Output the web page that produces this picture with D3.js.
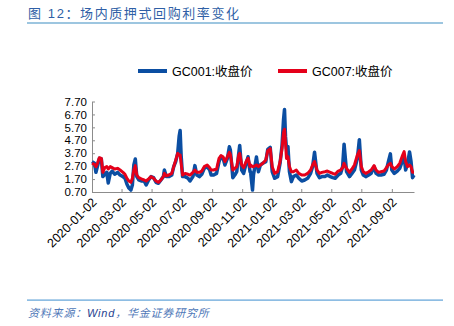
<!DOCTYPE html>
<html>
<head>
<meta charset="utf-8"/>
<script src="https://cdn.jsdelivr.net/npm/d3@7/dist/d3.min.js"></script>
<style>
  body { margin: 0; background: #fff; }
  text { font-family: "Liberation Sans", Arial, "Noto Sans CJK SC", sans-serif; }
</style>
</head>
<body>
<script>
// dates (roughly every few trading days)
var dates = [
 "2020-01-02","2020-01-07","2020-01-10","2020-01-13","2020-01-17","2020-01-21","2020-01-24","2020-01-28",
 "2020-02-01","2020-02-04","2020-02-08","2020-02-12","2020-02-17","2020-02-23","2020-02-28","2020-03-05",
 "2020-03-09","2020-03-13","2020-03-17","2020-03-21","2020-03-24","2020-03-27","2020-03-30","2020-04-02",
 "2020-04-06","2020-04-11","2020-04-17","2020-04-21","2020-04-26","2020-05-01","2020-05-06","2020-05-11",
 "2020-05-16","2020-05-21","2020-05-26","2020-05-28","2020-06-01","2020-06-06","2020-06-12","2020-06-16",
 "2020-06-20","2020-06-24","2020-06-27","2020-06-29","2020-07-01","2020-07-04","2020-07-09","2020-07-15",
 "2020-07-19","2020-07-25","2020-07-29","2020-08-02","2020-08-07","2020-08-12","2020-08-17","2020-08-23",
 "2020-08-28","2020-08-31","2020-09-05","2020-09-11","2020-09-16","2020-09-20","2020-09-24","2020-09-28",
 "2020-10-03","2020-10-07","2020-10-09","2020-10-14","2020-10-18","2020-10-22","2020-10-26","2020-10-28",
 "2020-11-01","2020-11-05","2020-11-10","2020-11-14","2020-11-18","2020-11-19","2020-11-23","2020-11-25",
 "2020-12-01","2020-12-05","2020-12-09","2020-12-14","2020-12-20","2020-12-24","2020-12-29","2021-01-02",
 "2021-01-07","2021-01-13","2021-01-18","2021-01-22","2021-01-25","2021-01-27","2021-01-29","2021-01-31",
 "2021-02-03","2021-02-06","2021-02-10","2021-02-14","2021-02-20","2021-02-25","2021-03-03","2021-03-09",
 "2021-03-15","2021-03-21","2021-03-25","2021-03-29","2021-04-03","2021-04-08","2021-04-13","2021-04-19",
 "2021-04-24","2021-04-30","2021-05-05","2021-05-10","2021-05-16","2021-05-21","2021-05-25","2021-05-28",
 "2021-06-02","2021-06-08","2021-06-13","2021-06-18","2021-06-24","2021-06-28","2021-07-02","2021-07-06",
 "2021-07-11","2021-07-17","2021-07-22","2021-07-28","2021-08-01","2021-08-06","2021-08-11","2021-08-17",
 "2021-08-22","2021-08-26","2021-08-30","2021-09-02","2021-09-07","2021-09-13","2021-09-18","2021-09-24",
 "2021-09-27","2021-09-30","2021-10-04","2021-10-08","2021-10-11","2021-10-14","2021-10-17"
];
var gc001 = [
 3.05,2.92,2.22,2.66,3.30,3.25,1.89,2.07, 2.22,1.40,2.14,2.32,2.07,2.22,2.01,1.89,
 1.76,1.30,1.00,0.85,1.24,2.79,3.25,1.89, 1.63,1.55,1.55,1.24,1.63,1.89,1.81,1.45,
 1.37,1.63,1.89,2.40,1.89,1.89,2.01,2.66, 3.05,3.69,5.00,5.45,3.56,1.89,1.89,1.76,
 1.55,1.89,2.74,2.01,1.89,2.07,2.53,2.66, 2.40,2.01,2.01,2.14,3.05,3.43,3.35,2.79,
 3.30,4.20,3.95,1.81,2.01,2.27,3.69,4.30, 2.40,2.14,2.92,3.43,2.27,2.27,0.85,2.01,
 3.40,2.27,2.79,2.92,3.05,4.00,4.15,2.27, 1.76,1.89,2.92,4.33,6.30,7.08,5.00,4.08,
 4.21,2.27,1.50,1.89,2.01,1.76,1.55,1.63, 1.76,2.14,2.66,3.77,2.14,1.81,1.89,1.89,
 2.01,1.89,1.81,1.76,2.01,2.14,2.66,4.40, 2.27,1.89,2.14,2.40,3.30,4.75,2.40,2.01,
 1.89,2.01,2.14,2.66,2.14,2.01,2.01,2.07, 2.40,3.05,3.65,2.40,2.14,2.32,2.53,3.17,
 3.43,2.40,2.92,3.80,3.05,1.81,2.01
];
var gc007 = [
 2.92,2.84,2.66,2.92,3.35,3.30,2.22,2.58, 2.66,2.48,2.66,2.58,2.48,2.53,2.40,2.22,
 2.07,1.76,1.55,1.45,1.76,2.40,2.74,2.01, 1.81,1.71,1.63,1.55,1.71,1.89,1.76,1.55,
 1.45,1.63,1.89,2.14,1.96,2.01,2.14,2.66, 3.17,3.69,3.56,3.56,2.92,2.01,2.14,2.07,
 2.01,2.22,2.40,2.22,2.22,2.32,2.66,2.79, 2.58,2.40,2.40,2.48,3.30,3.51,3.43,3.05,
 3.43,3.77,3.61,2.40,2.53,2.66,3.56,3.69, 2.79,2.58,3.05,3.30,2.66,2.79,2.66,2.66,
 2.79,2.66,2.79,2.92,3.17,3.90,4.05,2.66, 2.14,2.27,3.05,4.08,5.30,5.55,4.50,3.30,
 3.43,2.66,2.27,2.27,2.40,2.14,2.01,2.01, 2.14,2.40,2.79,3.05,2.40,2.14,2.22,2.27,
 2.32,2.22,2.14,2.07,2.32,2.40,2.58,2.92, 2.53,2.22,2.48,2.79,3.56,3.90,2.66,2.27,
 2.14,2.27,2.40,2.74,2.40,2.22,2.27,2.32, 2.58,2.79,2.92,2.66,2.48,2.66,2.92,3.56,
 3.82,3.05,2.66,2.79,2.66,2.22,2.22
];
var yTicks = [0.70,1.70,2.70,3.70,4.70,5.70,6.70,7.70];
var xTicks = ["2020-01-02","2020-03-02","2020-05-02","2020-07-02","2020-09-02","2020-11-02",
              "2021-01-02","2021-03-02","2021-05-02","2021-07-02","2021-09-02"];
var seriesNames = ["GC001:收盘价","GC007:收盘价"];
var colors = ["#0b4ea2","#e5001a"];

var W = 454, H = 326;
var parse = d3.timeParse("%Y-%m-%d");
var svg = d3.select("body").append("svg").attr("width",W).attr("height",H);

// header
svg.append("text").attr("x",28).attr("y",18)
  .attr("font-family","'Noto Sans CJK SC', sans-serif")
  .attr("font-size",13).attr("letter-spacing",1.6).attr("fill","#2f5fa6")
  .text("图 12：场内质押式回购利率变化");
svg.append("rect").attr("x",27).attr("y",22).attr("width",416).attr("height",2).attr("fill","#9dc6e0");

var x = d3.scaleTime().domain([parse("2020-01-02"), parse("2021-10-17")]).range([92,414]);
var y = d3.scaleLinear().domain([0.70,7.70]).range([192,101.5]);

// y axis
var ya = svg.append("g").attr("transform","translate(92,0)")
  .call(d3.axisLeft(y).tickValues(yTicks).tickFormat(d3.format(".2f")).tickSizeInner(-3).tickSizeOuter(0));
ya.selectAll("text").attr("x",-5).attr("font-size",11.5).attr("fill","#000")
  .attr("font-family","'Liberation Sans', Arial, sans-serif");

// x axis
var xa = svg.append("g").attr("transform","translate(0,192)")
  .call(d3.axisBottom(x).tickValues(xTicks.map(parse)).tickFormat(d3.timeFormat("%Y-%m-%d")).tickSizeInner(-3).tickSizeOuter(0));
xa.selectAll("text").attr("font-size",12.5).attr("fill","#000")
  .attr("font-family","'Liberation Sans', Arial, sans-serif")
  .attr("text-anchor","end").attr("dy",0).attr("y",0)
  .attr("transform","translate(5,11) rotate(-45)");
svg.selectAll(".domain, .tick line").attr("stroke","#8c8c8c");

// lines
var pts = function(vals){ return vals.map(function(v,i){ return [parse(dates[i]), v]; }); };
var line = d3.line().x(function(d){return x(d[0]);}).y(function(d){return y(d[1]);});
svg.append("path").datum(pts(gc001)).attr("d",line).attr("fill","none")
  .attr("stroke",colors[0]).attr("stroke-width",3.5).attr("stroke-linejoin","round");
svg.append("path").datum(pts(gc007)).attr("d",line).attr("fill","none")
  .attr("stroke",colors[1]).attr("stroke-width",3).attr("stroke-linejoin","round");

// legend
var lg = [{x:138, tx:172},{x:278, tx:312}];
lg.forEach(function(l,i){
  svg.append("line").attr("x1",l.x).attr("x2",l.x+29).attr("y1",71).attr("y2",71)
    .attr("stroke",colors[i]).attr("stroke-width",4);
  svg.append("text").attr("x",l.tx).attr("y",75.5).attr("font-size",12.5).attr("fill","#000")
    .attr("font-family","'Liberation Sans', Arial, 'Noto Sans CJK SC', sans-serif")
    .text(seriesNames[i]);
});

// footer
svg.append("rect").attr("x",27).attr("y",299.5).attr("width",416).attr("height",1.2).attr("fill","#5ea2d8");
var src = svg.append("text").attr("x",28).attr("y",317).attr("font-size",11).attr("font-style","italic")
  .attr("letter-spacing",0.8).attr("fill","#4f78b8")
  .attr("font-family","'Noto Sans CJK SC', sans-serif");
src.append("tspan").text("资料来源：");
src.append("tspan").attr("fill","#1f3f8f").attr("font-family","'Liberation Sans', Arial, sans-serif").text("Wind");
src.append("tspan").text("，华金证券研究所");
</script>
</body>
</html>
